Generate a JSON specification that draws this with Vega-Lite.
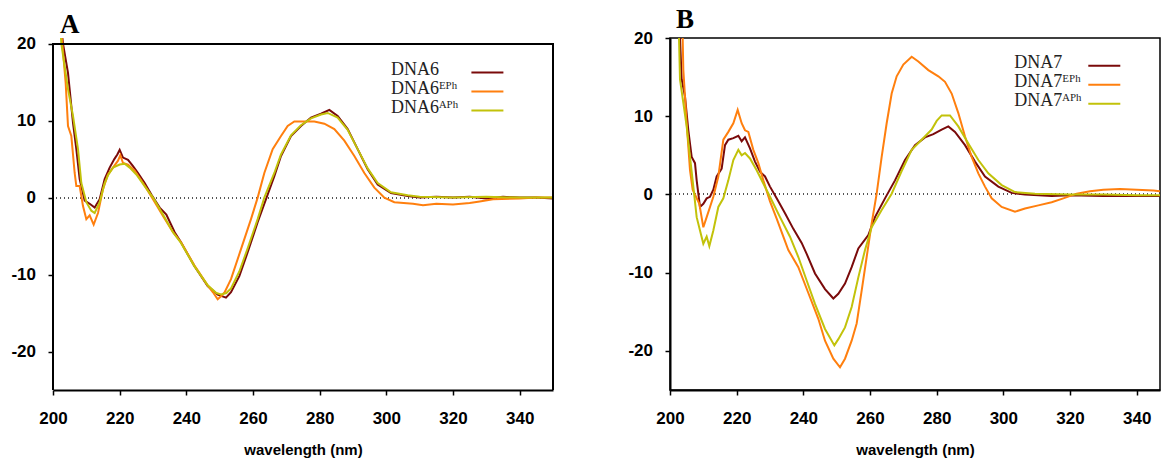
{
"$schema": "https://vega.github.io/schema/vega-lite/v6.json",
"padding": {"left": 10, "top": 4, "right": 0, "bottom": 0},
"spacing": 73,
"background": "white",
"config": {
  "view": {"stroke": "black", "strokeWidth": 1.5},
  "axis": {"domainColor": "black", "domainWidth": 2, "tickColor": "black", "tickWidth": 1.5, "tickSize": 5, "labelFont": "Liberation Sans", "labelFontWeight": "bold", "labelFontSize": 17, "labelColor": "black", "grid": false, "titleFont": "Liberation Sans", "titleFontWeight": "bold", "titleFontSize": 15, "titleColor": "black", "labelFlush": false},
  "axisX": {"labelPadding": 15.4, "titlePadding": 16},
  "axisY": {"labelPadding": 12.5, "labelExpr": "datum.value < 0 ? '-' + format(-datum.value, 'd') : datum.label"},
  "legend": {"symbolType": "M-4,-0.575H4", "symbolSize": 64, "symbolStrokeWidth": 2, "labelFont": "Liberation Serif", "labelFontSize": 18, "labelColor": "#222", "labelAlign": "left", "labelBaseline": "alphabetic", "rowPadding": 1, "padding": 0, "orient": "none", "labelLimit": 300}
},
"resolve": {"scale": {"color": "independent"}},
"datasets": {"cd": [
{"p":"A","s":"DNA6","x":202,"y":24},{"p":"A","s":"DNA6","x":203,"y":20},{"p":"A","s":"DNA6","x":204.5,"y":16.2},{"p":"A","s":"DNA6","x":206,"y":9.7},{"p":"A","s":"DNA6","x":207,"y":6.3},{"p":"A","s":"DNA6","x":208,"y":2.4},{"p":"A","s":"DNA6","x":209.5,"y":-0.4},{"p":"A","s":"DNA6","x":211,"y":-0.8},{"p":"A","s":"DNA6","x":212.5,"y":-1.3},{"p":"A","s":"DNA6","x":214,"y":-0.2},{"p":"A","s":"DNA6","x":215.5,"y":2.4},{"p":"A","s":"DNA6","x":217,"y":3.9},{"p":"A","s":"DNA6","x":218.4,"y":5.0},{"p":"A","s":"DNA6","x":219.3,"y":5.6},{"p":"A","s":"DNA6","x":220,"y":6.2},{"p":"A","s":"DNA6","x":221,"y":5.2},{"p":"A","s":"DNA6","x":222.5,"y":4.9},{"p":"A","s":"DNA6","x":224,"y":4.1},{"p":"A","s":"DNA6","x":225.5,"y":3.2},{"p":"A","s":"DNA6","x":227.5,"y":1.9},{"p":"A","s":"DNA6","x":229.5,"y":0.4},{"p":"A","s":"DNA6","x":232,"y":-1.3},{"p":"A","s":"DNA6","x":234,"y":-2.2},{"p":"A","s":"DNA6","x":236.5,"y":-4.5},{"p":"A","s":"DNA6","x":238.4,"y":-5.8},{"p":"A","s":"DNA6","x":242.4,"y":-8.9},{"p":"A","s":"DNA6","x":246.4,"y":-11.5},{"p":"A","s":"DNA6","x":249.4,"y":-12.6},{"p":"A","s":"DNA6","x":251.9,"y":-13.0},{"p":"A","s":"DNA6","x":253.4,"y":-12.3},{"p":"A","s":"DNA6","x":255.9,"y":-10.2},{"p":"A","s":"DNA6","x":258.4,"y":-7.1},{"p":"A","s":"DNA6","x":261.4,"y":-3.2},{"p":"A","s":"DNA6","x":263.9,"y":-0.2},{"p":"A","s":"DNA6","x":266.4,"y":2.8},{"p":"A","s":"DNA6","x":268.4,"y":5.4},{"p":"A","s":"DNA6","x":271.4,"y":8.0},{"p":"A","s":"DNA6","x":274.4,"y":9.3},{"p":"A","s":"DNA6","x":277.4,"y":10.4},{"p":"A","s":"DNA6","x":280.4,"y":10.9},{"p":"A","s":"DNA6","x":282.9,"y":11.4},{"p":"A","s":"DNA6","x":285.4,"y":10.6},{"p":"A","s":"DNA6","x":288.4,"y":8.9},{"p":"A","s":"DNA6","x":291.4,"y":6.3},{"p":"A","s":"DNA6","x":294.4,"y":3.7},{"p":"A","s":"DNA6","x":297.4,"y":1.7},{"p":"A","s":"DNA6","x":301.4,"y":0.6},{"p":"A","s":"DNA6","x":306.4,"y":0.2},{"p":"A","s":"DNA6","x":310,"y":0.0},{"p":"A","s":"DNA6","x":315,"y":0.1},{"p":"A","s":"DNA6","x":320,"y":0.0},{"p":"A","s":"DNA6","x":325,"y":0.1},{"p":"A","s":"DNA6","x":330,"y":-0.1},{"p":"A","s":"DNA6","x":335,"y":0.1},{"p":"A","s":"DNA6","x":340,"y":0.0},{"p":"A","s":"DNA6","x":345,"y":0.0},{"p":"A","s":"DNA6","x":350,"y":-0.1},
{"p":"A","s":"DNA6ᴱᴾʰ","x":202,"y":24},{"p":"A","s":"DNA6ᴱᴾʰ","x":202.8,"y":20},{"p":"A","s":"DNA6ᴱᴾʰ","x":203.8,"y":14.9},{"p":"A","s":"DNA6ᴱᴾʰ","x":204.5,"y":9.3},{"p":"A","s":"DNA6ᴱᴾʰ","x":205.5,"y":8.0},{"p":"A","s":"DNA6ᴱᴾʰ","x":206.5,"y":3.2},{"p":"A","s":"DNA6ᴱᴾʰ","x":207,"y":1.5},{"p":"A","s":"DNA6ᴱᴾʰ","x":208,"y":1.5},{"p":"A","s":"DNA6ᴱᴾʰ","x":209,"y":-1.1},{"p":"A","s":"DNA6ᴱᴾʰ","x":210,"y":-2.8},{"p":"A","s":"DNA6ᴱᴾʰ","x":211,"y":-2.3},{"p":"A","s":"DNA6ᴱᴾʰ","x":212.2,"y":-3.5},{"p":"A","s":"DNA6ᴱᴾʰ","x":213.5,"y":-2.0},{"p":"A","s":"DNA6ᴱᴾʰ","x":215,"y":1.1},{"p":"A","s":"DNA6ᴱᴾʰ","x":216.5,"y":3.0},{"p":"A","s":"DNA6ᴱᴾʰ","x":218,"y":3.9},{"p":"A","s":"DNA6ᴱᴾʰ","x":219.5,"y":4.8},{"p":"A","s":"DNA6ᴱᴾʰ","x":220.2,"y":5.5},{"p":"A","s":"DNA6ᴱᴾʰ","x":221,"y":4.5},{"p":"A","s":"DNA6ᴱᴾʰ","x":222.5,"y":4.3},{"p":"A","s":"DNA6ᴱᴾʰ","x":224.5,"y":3.5},{"p":"A","s":"DNA6ᴱᴾʰ","x":227,"y":1.9},{"p":"A","s":"DNA6ᴱᴾʰ","x":230,"y":-0.2},{"p":"A","s":"DNA6ᴱᴾʰ","x":233,"y":-2.4},{"p":"A","s":"DNA6ᴱᴾʰ","x":236,"y":-4.5},{"p":"A","s":"DNA6ᴱᴾʰ","x":238.4,"y":-5.8},{"p":"A","s":"DNA6ᴱᴾʰ","x":242.4,"y":-8.8},{"p":"A","s":"DNA6ᴱᴾʰ","x":246.4,"y":-11.4},{"p":"A","s":"DNA6ᴱᴾʰ","x":248,"y":-12.3},{"p":"A","s":"DNA6ᴱᴾʰ","x":249.4,"y":-13.2},{"p":"A","s":"DNA6ᴱᴾʰ","x":250.5,"y":-12.8},{"p":"A","s":"DNA6ᴱᴾʰ","x":251.5,"y":-12.3},{"p":"A","s":"DNA6ᴱᴾʰ","x":253.4,"y":-10.6},{"p":"A","s":"DNA6ᴱᴾʰ","x":256.4,"y":-6.7},{"p":"A","s":"DNA6ᴱᴾʰ","x":259.4,"y":-2.8},{"p":"A","s":"DNA6ᴱᴾʰ","x":261.4,"y":0.0},{"p":"A","s":"DNA6ᴱᴾʰ","x":263.4,"y":3.2},{"p":"A","s":"DNA6ᴱᴾʰ","x":265.9,"y":6.3},{"p":"A","s":"DNA6ᴱᴾʰ","x":268.4,"y":8.0},{"p":"A","s":"DNA6ᴱᴾʰ","x":270.4,"y":9.3},{"p":"A","s":"DNA6ᴱᴾʰ","x":272.4,"y":9.9},{"p":"A","s":"DNA6ᴱᴾʰ","x":275.4,"y":9.9},{"p":"A","s":"DNA6ᴱᴾʰ","x":278.4,"y":9.9},{"p":"A","s":"DNA6ᴱᴾʰ","x":281.4,"y":9.6},{"p":"A","s":"DNA6ᴱᴾʰ","x":284.4,"y":8.9},{"p":"A","s":"DNA6ᴱᴾʰ","x":287.4,"y":7.4},{"p":"A","s":"DNA6ᴱᴾʰ","x":290.4,"y":5.4},{"p":"A","s":"DNA6ᴱᴾʰ","x":293.4,"y":3.2},{"p":"A","s":"DNA6ᴱᴾʰ","x":296.4,"y":1.3},{"p":"A","s":"DNA6ᴱᴾʰ","x":299.4,"y":0.0},{"p":"A","s":"DNA6ᴱᴾʰ","x":302.4,"y":-0.6},{"p":"A","s":"DNA6ᴱᴾʰ","x":308,"y":-0.8},{"p":"A","s":"DNA6ᴱᴾʰ","x":311,"y":-1.0},{"p":"A","s":"DNA6ᴱᴾʰ","x":315,"y":-0.8},{"p":"A","s":"DNA6ᴱᴾʰ","x":320,"y":-0.9},{"p":"A","s":"DNA6ᴱᴾʰ","x":325,"y":-0.7},{"p":"A","s":"DNA6ᴱᴾʰ","x":328,"y":-0.5},{"p":"A","s":"DNA6ᴱᴾʰ","x":332,"y":-0.2},{"p":"A","s":"DNA6ᴱᴾʰ","x":340,"y":-0.1},{"p":"A","s":"DNA6ᴱᴾʰ","x":345,"y":0.0},{"p":"A","s":"DNA6ᴱᴾʰ","x":350,"y":0.0},
{"p":"A","s":"DNA6ᴬᴾʰ","x":202,"y":24},{"p":"A","s":"DNA6ᴬᴾʰ","x":202.5,"y":20},{"p":"A","s":"DNA6ᴬᴾʰ","x":204.5,"y":14.1},{"p":"A","s":"DNA6ᴬᴾʰ","x":206,"y":10.6},{"p":"A","s":"DNA6ᴬᴾʰ","x":207.5,"y":6.3},{"p":"A","s":"DNA6ᴬᴾʰ","x":208.5,"y":1.9},{"p":"A","s":"DNA6ᴬᴾʰ","x":210,"y":-0.6},{"p":"A","s":"DNA6ᴬᴾʰ","x":211.5,"y":-1.7},{"p":"A","s":"DNA6ᴬᴾʰ","x":212.5,"y":-2.0},{"p":"A","s":"DNA6ᴬᴾʰ","x":214,"y":-0.6},{"p":"A","s":"DNA6ᴬᴾʰ","x":215.5,"y":1.9},{"p":"A","s":"DNA6ᴬᴾʰ","x":216.5,"y":2.9},{"p":"A","s":"DNA6ᴬᴾʰ","x":218,"y":3.9},{"p":"A","s":"DNA6ᴬᴾʰ","x":220,"y":4.3},{"p":"A","s":"DNA6ᴬᴾʰ","x":221.5,"y":4.4},{"p":"A","s":"DNA6ᴬᴾʰ","x":223,"y":3.9},{"p":"A","s":"DNA6ᴬᴾʰ","x":225,"y":3.0},{"p":"A","s":"DNA6ᴬᴾʰ","x":227.5,"y":1.5},{"p":"A","s":"DNA6ᴬᴾʰ","x":230,"y":0.0},{"p":"A","s":"DNA6ᴬᴾʰ","x":233,"y":-2.2},{"p":"A","s":"DNA6ᴬᴾʰ","x":236,"y":-4.5},{"p":"A","s":"DNA6ᴬᴾʰ","x":238.4,"y":-5.9},{"p":"A","s":"DNA6ᴬᴾʰ","x":242.4,"y":-8.9},{"p":"A","s":"DNA6ᴬᴾʰ","x":246.4,"y":-11.4},{"p":"A","s":"DNA6ᴬᴾʰ","x":249,"y":-12.4},{"p":"A","s":"DNA6ᴬᴾʰ","x":250.4,"y":-12.6},{"p":"A","s":"DNA6ᴬᴾʰ","x":252,"y":-12.4},{"p":"A","s":"DNA6ᴬᴾʰ","x":253.4,"y":-11.8},{"p":"A","s":"DNA6ᴬᴾʰ","x":255.9,"y":-9.6},{"p":"A","s":"DNA6ᴬᴾʰ","x":258.4,"y":-6.6},{"p":"A","s":"DNA6ᴬᴾʰ","x":261.4,"y":-2.8},{"p":"A","s":"DNA6ᴬᴾʰ","x":263.4,"y":0.0},{"p":"A","s":"DNA6ᴬᴾʰ","x":266.4,"y":3.2},{"p":"A","s":"DNA6ᴬᴾʰ","x":268.4,"y":5.6},{"p":"A","s":"DNA6ᴬᴾʰ","x":271.4,"y":8.1},{"p":"A","s":"DNA6ᴬᴾʰ","x":274.4,"y":9.4},{"p":"A","s":"DNA6ᴬᴾʰ","x":277.4,"y":10.3},{"p":"A","s":"DNA6ᴬᴾʰ","x":280.4,"y":10.8},{"p":"A","s":"DNA6ᴬᴾʰ","x":282.4,"y":11.0},{"p":"A","s":"DNA6ᴬᴾʰ","x":285.4,"y":10.4},{"p":"A","s":"DNA6ᴬᴾʰ","x":288.4,"y":8.8},{"p":"A","s":"DNA6ᴬᴾʰ","x":291.4,"y":6.3},{"p":"A","s":"DNA6ᴬᴾʰ","x":294.4,"y":3.8},{"p":"A","s":"DNA6ᴬᴾʰ","x":297.4,"y":1.9},{"p":"A","s":"DNA6ᴬᴾʰ","x":301.4,"y":0.7},{"p":"A","s":"DNA6ᴬᴾʰ","x":306.4,"y":0.3},{"p":"A","s":"DNA6ᴬᴾʰ","x":310,"y":0.1},{"p":"A","s":"DNA6ᴬᴾʰ","x":320,"y":0.0},{"p":"A","s":"DNA6ᴬᴾʰ","x":330,"y":0.1},{"p":"A","s":"DNA6ᴬᴾʰ","x":340,"y":0.0},{"p":"A","s":"DNA6ᴬᴾʰ","x":350,"y":0.0},
{"p":"B","s":"DNA7","x":202.5,"y":24},{"p":"B","s":"DNA7","x":203,"y":20},{"p":"B","s":"DNA7","x":203.5,"y":14.7},{"p":"B","s":"DNA7","x":204.5,"y":12.5},{"p":"B","s":"DNA7","x":205.5,"y":8.2},{"p":"B","s":"DNA7","x":206.5,"y":4.8},{"p":"B","s":"DNA7","x":207.5,"y":4.0},{"p":"B","s":"DNA7","x":208,"y":1.8},{"p":"B","s":"DNA7","x":209,"y":-1.6},{"p":"B","s":"DNA7","x":210,"y":-1.2},{"p":"B","s":"DNA7","x":211,"y":-0.5},{"p":"B","s":"DNA7","x":212,"y":-0.3},{"p":"B","s":"DNA7","x":213,"y":0.6},{"p":"B","s":"DNA7","x":214,"y":2.3},{"p":"B","s":"DNA7","x":215.5,"y":3.3},{"p":"B","s":"DNA7","x":216.5,"y":6.3},{"p":"B","s":"DNA7","x":217.5,"y":7.0},{"p":"B","s":"DNA7","x":219,"y":7.2},{"p":"B","s":"DNA7","x":220.5,"y":7.5},{"p":"B","s":"DNA7","x":221.5,"y":6.8},{"p":"B","s":"DNA7","x":222.5,"y":7.3},{"p":"B","s":"DNA7","x":224,"y":5.9},{"p":"B","s":"DNA7","x":225.5,"y":4.2},{"p":"B","s":"DNA7","x":227,"y":2.9},{"p":"B","s":"DNA7","x":228.5,"y":2.3},{"p":"B","s":"DNA7","x":230,"y":1.0},{"p":"B","s":"DNA7","x":232,"y":-0.5},{"p":"B","s":"DNA7","x":234.5,"y":-2.4},{"p":"B","s":"DNA7","x":237,"y":-4.4},{"p":"B","s":"DNA7","x":239.5,"y":-6.2},{"p":"B","s":"DNA7","x":241,"y":-7.6},{"p":"B","s":"DNA7","x":243.5,"y":-10.1},{"p":"B","s":"DNA7","x":246.5,"y":-12.1},{"p":"B","s":"DNA7","x":249,"y":-13.3},{"p":"B","s":"DNA7","x":250.5,"y":-12.7},{"p":"B","s":"DNA7","x":252.5,"y":-11.4},{"p":"B","s":"DNA7","x":254.5,"y":-9.3},{"p":"B","s":"DNA7","x":256.5,"y":-6.9},{"p":"B","s":"DNA7","x":259.5,"y":-5.2},{"p":"B","s":"DNA7","x":261.5,"y":-2.9},{"p":"B","s":"DNA7","x":264.5,"y":-0.5},{"p":"B","s":"DNA7","x":267.5,"y":1.8},{"p":"B","s":"DNA7","x":270.5,"y":4.4},{"p":"B","s":"DNA7","x":273.5,"y":6.3},{"p":"B","s":"DNA7","x":276.5,"y":7.3},{"p":"B","s":"DNA7","x":279,"y":7.7},{"p":"B","s":"DNA7","x":281.5,"y":8.3},{"p":"B","s":"DNA7","x":283.5,"y":8.7},{"p":"B","s":"DNA7","x":285.5,"y":8.0},{"p":"B","s":"DNA7","x":288.5,"y":6.3},{"p":"B","s":"DNA7","x":291.5,"y":4.2},{"p":"B","s":"DNA7","x":294.5,"y":2.3},{"p":"B","s":"DNA7","x":298.5,"y":1.0},{"p":"B","s":"DNA7","x":302.5,"y":0.2},{"p":"B","s":"DNA7","x":306.5,"y":0.0},{"p":"B","s":"DNA7","x":314.5,"y":-0.2},{"p":"B","s":"DNA7","x":320,"y":-0.1},{"p":"B","s":"DNA7","x":330,"y":-0.2},{"p":"B","s":"DNA7","x":340,"y":-0.2},{"p":"B","s":"DNA7","x":350,"y":-0.2},
{"p":"B","s":"DNA7ᴱᴾʰ","x":203,"y":26},{"p":"B","s":"DNA7ᴱᴾʰ","x":203.8,"y":20},{"p":"B","s":"DNA7ᴱᴾʰ","x":204,"y":15.9},{"p":"B","s":"DNA7ᴱᴾʰ","x":205,"y":9.1},{"p":"B","s":"DNA7ᴱᴾʰ","x":206,"y":3.1},{"p":"B","s":"DNA7ᴱᴾʰ","x":206.8,"y":0.6},{"p":"B","s":"DNA7ᴱᴾʰ","x":207.8,"y":-0.3},{"p":"B","s":"DNA7ᴱᴾʰ","x":208.8,"y":-1.2},{"p":"B","s":"DNA7ᴱᴾʰ","x":210,"y":-4.2},{"p":"B","s":"DNA7ᴱᴾʰ","x":211,"y":-2.9},{"p":"B","s":"DNA7ᴱᴾʰ","x":212,"y":-1.6},{"p":"B","s":"DNA7ᴱᴾʰ","x":213,"y":-0.3},{"p":"B","s":"DNA7ᴱᴾʰ","x":214.5,"y":2.3},{"p":"B","s":"DNA7ᴱᴾʰ","x":216,"y":7.0},{"p":"B","s":"DNA7ᴱᴾʰ","x":217.5,"y":8.0},{"p":"B","s":"DNA7ᴱᴾʰ","x":219,"y":9.1},{"p":"B","s":"DNA7ᴱᴾʰ","x":220.3,"y":10.8},{"p":"B","s":"DNA7ᴱᴾʰ","x":221.5,"y":9.1},{"p":"B","s":"DNA7ᴱᴾʰ","x":222.5,"y":8.2},{"p":"B","s":"DNA7ᴱᴾʰ","x":223.5,"y":8.0},{"p":"B","s":"DNA7ᴱᴾʰ","x":225,"y":5.7},{"p":"B","s":"DNA7ᴱᴾʰ","x":226.5,"y":4.0},{"p":"B","s":"DNA7ᴱᴾʰ","x":228,"y":1.8},{"p":"B","s":"DNA7ᴱᴾʰ","x":230,"y":-0.9},{"p":"B","s":"DNA7ᴱᴾʰ","x":232,"y":-3.1},{"p":"B","s":"DNA7ᴱᴾʰ","x":234,"y":-5.4},{"p":"B","s":"DNA7ᴱᴾʰ","x":235.5,"y":-7.1},{"p":"B","s":"DNA7ᴱᴾʰ","x":238.5,"y":-9.3},{"p":"B","s":"DNA7ᴱᴾʰ","x":241.5,"y":-12.6},{"p":"B","s":"DNA7ᴱᴾʰ","x":244.5,"y":-15.9},{"p":"B","s":"DNA7ᴱᴾʰ","x":246.5,"y":-18.7},{"p":"B","s":"DNA7ᴱᴾʰ","x":249,"y":-21.0},{"p":"B","s":"DNA7ᴱᴾʰ","x":251,"y":-22.1},{"p":"B","s":"DNA7ᴱᴾʰ","x":252.5,"y":-21.0},{"p":"B","s":"DNA7ᴱᴾʰ","x":254.5,"y":-18.7},{"p":"B","s":"DNA7ᴱᴾʰ","x":256,"y":-16.5},{"p":"B","s":"DNA7ᴱᴾʰ","x":257.5,"y":-12.3},{"p":"B","s":"DNA7ᴱᴾʰ","x":259,"y":-8.0},{"p":"B","s":"DNA7ᴱᴾʰ","x":260.5,"y":-3.7},{"p":"B","s":"DNA7ᴱᴾʰ","x":262,"y":0.1},{"p":"B","s":"DNA7ᴱᴾʰ","x":263.5,"y":4.8},{"p":"B","s":"DNA7ᴱᴾʰ","x":265,"y":9.1},{"p":"B","s":"DNA7ᴱᴾʰ","x":266.5,"y":12.9},{"p":"B","s":"DNA7ᴱᴾʰ","x":268,"y":15.1},{"p":"B","s":"DNA7ᴱᴾʰ","x":270,"y":16.6},{"p":"B","s":"DNA7ᴱᴾʰ","x":272.5,"y":17.6},{"p":"B","s":"DNA7ᴱᴾʰ","x":274.5,"y":17.0},{"p":"B","s":"DNA7ᴱᴾʰ","x":277.5,"y":15.9},{"p":"B","s":"DNA7ᴱᴾʰ","x":280.5,"y":15.1},{"p":"B","s":"DNA7ᴱᴾʰ","x":282.5,"y":14.4},{"p":"B","s":"DNA7ᴱᴾʰ","x":284.5,"y":12.9},{"p":"B","s":"DNA7ᴱᴾʰ","x":286.5,"y":10.4},{"p":"B","s":"DNA7ᴱᴾʰ","x":288.5,"y":7.4},{"p":"B","s":"DNA7ᴱᴾʰ","x":290.5,"y":4.8},{"p":"B","s":"DNA7ᴱᴾʰ","x":292.5,"y":2.7},{"p":"B","s":"DNA7ᴱᴾʰ","x":294.5,"y":1.0},{"p":"B","s":"DNA7ᴱᴾʰ","x":296.5,"y":-0.5},{"p":"B","s":"DNA7ᴱᴾʰ","x":299.5,"y":-1.6},{"p":"B","s":"DNA7ᴱᴾʰ","x":303.5,"y":-2.2},{"p":"B","s":"DNA7ᴱᴾʰ","x":306.5,"y":-1.8},{"p":"B","s":"DNA7ᴱᴾʰ","x":310.5,"y":-1.4},{"p":"B","s":"DNA7ᴱᴾʰ","x":314.5,"y":-1.0},{"p":"B","s":"DNA7ᴱᴾʰ","x":318,"y":-0.5},{"p":"B","s":"DNA7ᴱᴾʰ","x":322,"y":0.1},{"p":"B","s":"DNA7ᴱᴾʰ","x":326,"y":0.4},{"p":"B","s":"DNA7ᴱᴾʰ","x":330,"y":0.6},{"p":"B","s":"DNA7ᴱᴾʰ","x":335,"y":0.7},{"p":"B","s":"DNA7ᴱᴾʰ","x":340,"y":0.6},{"p":"B","s":"DNA7ᴱᴾʰ","x":345,"y":0.5},{"p":"B","s":"DNA7ᴱᴾʰ","x":350,"y":0.3},
{"p":"B","s":"DNA7ᴬᴾʰ","x":202,"y":24},{"p":"B","s":"DNA7ᴬᴾʰ","x":202.7,"y":20},{"p":"B","s":"DNA7ᴬᴾʰ","x":203,"y":14.7},{"p":"B","s":"DNA7ᴬᴾʰ","x":204,"y":11.7},{"p":"B","s":"DNA7ᴬᴾʰ","x":205,"y":8.7},{"p":"B","s":"DNA7ᴬᴾʰ","x":206,"y":4.8},{"p":"B","s":"DNA7ᴬᴾʰ","x":207,"y":1.0},{"p":"B","s":"DNA7ᴬᴾʰ","x":208,"y":-2.9},{"p":"B","s":"DNA7ᴬᴾʰ","x":209,"y":-4.6},{"p":"B","s":"DNA7ᴬᴾʰ","x":210,"y":-6.3},{"p":"B","s":"DNA7ᴬᴾʰ","x":211,"y":-5.4},{"p":"B","s":"DNA7ᴬᴾʰ","x":211.8,"y":-6.6},{"p":"B","s":"DNA7ᴬᴾʰ","x":213,"y":-4.6},{"p":"B","s":"DNA7ᴬᴾʰ","x":214.5,"y":-1.6},{"p":"B","s":"DNA7ᴬᴾʰ","x":216,"y":-0.5},{"p":"B","s":"DNA7ᴬᴾʰ","x":217.5,"y":1.8},{"p":"B","s":"DNA7ᴬᴾʰ","x":219,"y":4.4},{"p":"B","s":"DNA7ᴬᴾʰ","x":220.5,"y":5.7},{"p":"B","s":"DNA7ᴬᴾʰ","x":221.5,"y":5.0},{"p":"B","s":"DNA7ᴬᴾʰ","x":222.5,"y":5.3},{"p":"B","s":"DNA7ᴬᴾʰ","x":224,"y":4.6},{"p":"B","s":"DNA7ᴬᴾʰ","x":226,"y":3.1},{"p":"B","s":"DNA7ᴬᴾʰ","x":228,"y":1.4},{"p":"B","s":"DNA7ᴬᴾʰ","x":230,"y":-0.3},{"p":"B","s":"DNA7ᴬᴾʰ","x":233,"y":-2.9},{"p":"B","s":"DNA7ᴬᴾʰ","x":236,"y":-5.4},{"p":"B","s":"DNA7ᴬᴾʰ","x":238.5,"y":-8.0},{"p":"B","s":"DNA7ᴬᴾʰ","x":241,"y":-11.0},{"p":"B","s":"DNA7ᴬᴾʰ","x":243.5,"y":-14.0},{"p":"B","s":"DNA7ᴬᴾʰ","x":246.5,"y":-17.2},{"p":"B","s":"DNA7ᴬᴾʰ","x":249.3,"y":-19.3},{"p":"B","s":"DNA7ᴬᴾʰ","x":250.5,"y":-18.5},{"p":"B","s":"DNA7ᴬᴾʰ","x":252.5,"y":-17.0},{"p":"B","s":"DNA7ᴬᴾʰ","x":254.5,"y":-14.4},{"p":"B","s":"DNA7ᴬᴾʰ","x":256.5,"y":-10.6},{"p":"B","s":"DNA7ᴬᴾʰ","x":258.5,"y":-7.1},{"p":"B","s":"DNA7ᴬᴾʰ","x":260.5,"y":-4.2},{"p":"B","s":"DNA7ᴬᴾʰ","x":263.5,"y":-2.0},{"p":"B","s":"DNA7ᴬᴾʰ","x":266.5,"y":0.1},{"p":"B","s":"DNA7ᴬᴾʰ","x":269.5,"y":3.0},{"p":"B","s":"DNA7ᴬᴾʰ","x":272.5,"y":5.7},{"p":"B","s":"DNA7ᴬᴾʰ","x":275.5,"y":7.0},{"p":"B","s":"DNA7ᴬᴾʰ","x":278.5,"y":8.3},{"p":"B","s":"DNA7ᴬᴾʰ","x":280,"y":9.4},{"p":"B","s":"DNA7ᴬᴾʰ","x":281.5,"y":10.1},{"p":"B","s":"DNA7ᴬᴾʰ","x":284,"y":10.1},{"p":"B","s":"DNA7ᴬᴾʰ","x":286.5,"y":8.7},{"p":"B","s":"DNA7ᴬᴾʰ","x":289.5,"y":6.5},{"p":"B","s":"DNA7ᴬᴾʰ","x":292.5,"y":4.4},{"p":"B","s":"DNA7ᴬᴾʰ","x":295.5,"y":2.7},{"p":"B","s":"DNA7ᴬᴾʰ","x":299.5,"y":1.2},{"p":"B","s":"DNA7ᴬᴾʰ","x":303.5,"y":0.3},{"p":"B","s":"DNA7ᴬᴾʰ","x":309.5,"y":0.1},{"p":"B","s":"DNA7ᴬᴾʰ","x":320,"y":0.0},{"p":"B","s":"DNA7ᴬᴾʰ","x":330,"y":0.0},{"p":"B","s":"DNA7ᴬᴾʰ","x":340,"y":-0.1},{"p":"B","s":"DNA7ᴬᴾʰ","x":350,"y":-0.1}
]},
"hconcat": [
 {
  "width": 500, "height": 352,
  "view": {"stroke": null},
  "title": {"text": "A", "anchor": "start", "frame": "group", "font": "Liberation Serif", "fontSize": 27, "fontWeight": "bold", "color": "black", "dx": 7, "offset": -4.7},
  "data": {"name": "cd"},
  "transform": [{"filter": "datum.p === 'A'"}],
  "layer": [
   {"mark": {"type": "rule", "strokeDash": [1, 3], "color": "#555", "strokeWidth": 1}, "encoding": {"y": {"datum": 0, "type": "quantitative"}}},
   {"mark": {"type": "line", "strokeWidth": 2, "clip": true},
    "encoding": {
     "x": {"field": "x", "type": "quantitative", "scale": {"domain": [200, 350], "nice": false, "zero": false}, "axis": {"values": [200,220,240,260,280,300,320,340], "title": "wavelength (nm)"}},
     "y": {"field": "y", "type": "quantitative", "scale": {"domain": [-25, 20.74], "nice": false, "zero": false}, "axis": {"values": [-20,-10,0,10,20], "title": null, "domain": false}},
     "color": {"field": "s", "type": "nominal", "scale": {"domain": ["DNA6", "DNA6ᴱᴾʰ", "DNA6ᴬᴾʰ"], "range": ["#7a0a0a", "#ff7f0e", "#c2c20a"]}, "legend": {"title": null, "legendX": 425.4, "legendY": 27.7, "labelOffset": -105.5}},
     "order": {"field": "x", "type": "quantitative"}
    }},
   {"mark": {"type": "rule", "color": "black", "strokeWidth": 1.5}, "encoding": {"y": {"datum": 20, "type": "quantitative"}}},
   {"mark": {"type": "rule", "color": "black", "strokeWidth": 1.5}, "encoding": {"x": {"datum": 350, "type": "quantitative"}, "y": {"datum": 20, "type": "quantitative"}, "y2": {"datum": -25}}},
   {"mark": {"type": "rule", "color": "black", "strokeWidth": 2}, "encoding": {"x": {"datum": 200, "type": "quantitative"}, "y": {"datum": 20, "type": "quantitative"}, "y2": {"datum": -25}}}
  ]
 },
 {
  "width": 490, "height": 352,
  "title": {"text": "B", "anchor": "start", "frame": "group", "font": "Liberation Serif", "fontSize": 27, "fontWeight": "bold", "color": "black", "dx": 6, "offset": -4.7},
  "data": {"name": "cd"},
  "transform": [{"filter": "datum.p === 'B'"}],
  "layer": [
   {"mark": {"type": "rule", "strokeDash": [1, 3], "color": "#555", "strokeWidth": 1}, "encoding": {"y": {"datum": 0, "type": "quantitative"}}},
   {"mark": {"type": "line", "strokeWidth": 2, "clip": true},
    "encoding": {
     "x": {"field": "x", "type": "quantitative", "scale": {"domain": [200, 347], "nice": false, "zero": false}, "axis": {"values": [200,220,240,260,280,300,320,340], "title": "wavelength (nm)"}},
     "y": {"field": "y", "type": "quantitative", "scale": {"domain": [-25, 20], "nice": false, "zero": false}, "axis": {"values": [-20,-10,0,10,20], "title": null}},
     "color": {"field": "s", "type": "nominal", "scale": {"domain": ["DNA7", "DNA7ᴱᴾʰ", "DNA7ᴬᴾʰ"], "range": ["#7a0a0a", "#ff7f0e", "#c2c20a"]}, "legend": {"title": null, "legendX": 425.3, "legendY": 21, "labelOffset": -99}},
     "order": {"field": "x", "type": "quantitative"}
    }}
  ]
 }
]
}
